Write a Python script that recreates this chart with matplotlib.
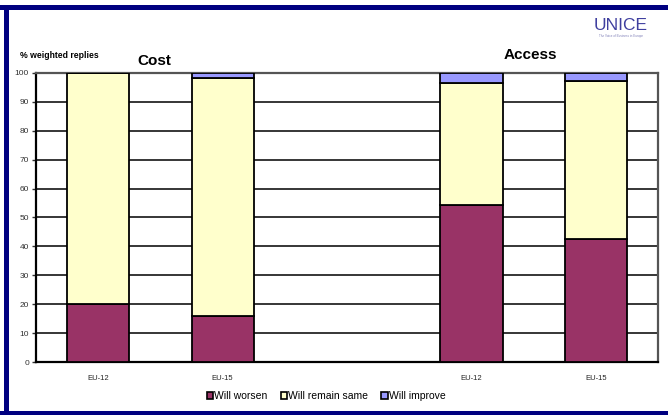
import numpy as np
import matplotlib
matplotlib.use("Agg")
import matplotlib.pyplot as plt
from matplotlib.patches import Rectangle, Patch

plt.rcParams['font.family'] = ['Liberation Sans', 'DejaVu Sans']

# slot labels (middle slot left empty to separate the two groups)
categories = ["EU-12", "EU-15", "", "EU-12", "EU-15"]
worsen = [20.0, 16.0, 0.0, 54.4, 42.7]
same = [80.0, 82.0, 0.0, 42.1, 54.5]
improve = [0.0, 2.0, 0.0, 3.5, 2.8]
series_names = ["Will worsen", "Will remain same", "Will improve"]
colors = ["#993366", "#FFFFCC", "#9999FF"]

W, H = 668, 415
fig = plt.figure(figsize=(W / 100, H / 100), dpi=100)

# navy frame: top, left and bottom bands
navy = "#000080"
for x0, y0, w, h in [(0, 405, 668, 5), (4, 0, 5, 410), (0, 0, 668, 4)]:
    fig.add_artist(Rectangle((x0 / W, y0 / H), w / W, h / H,
                             transform=fig.transFigure, color=navy, lw=0))

ax = fig.add_axes([36 / W, (H - 362.3) / H, 622 / W, 289.6 / H])

x = np.array([i for i, c in enumerate(categories) if c])
w_arr = np.array(worsen)[x]
s_arr = np.array(same)[x]
i_arr = np.array(improve)[x]

ax.bar(x, w_arr, width=0.5, color=colors[0], edgecolor="black", lw=1.3, zorder=3)
ax.bar(x, s_arr, width=0.5, bottom=w_arr, color=colors[1], edgecolor="black", lw=1.3, zorder=3)
ax.bar(x, i_arr, width=0.5, bottom=w_arr + s_arr, color=colors[2], edgecolor="black", lw=1.3, zorder=3)

ax.set_xlim(-0.5, len(categories) - 0.5)
ax.set_ylim(0, 100)
ax.set_yticks(np.arange(0, 101, 10))
ax.set_xticks(range(len(categories)))
ax.set_xticklabels(categories)
ax.tick_params(axis='x', length=0, labelsize=5.5, pad=9, colors="#222222")
ax.tick_params(axis='y', length=3, width=1, labelsize=6, colors="#333333", pad=2)
ax.yaxis.grid(True, color="black", lw=1.1, zorder=1)
ax.set_axisbelow(True)

for side in ["left", "bottom"]:
    ax.spines[side].set_color("black")
    ax.spines[side].set_linewidth(1.6)
for side in ["top", "right"]:
    ax.spines[side].set_color("#555555")
    ax.spines[side].set_linewidth(1.6)

fig.text(20 / W, 1 - 56 / H, "% weighted replies", fontsize=6.2, fontweight="bold",
         va="center", ha="left")
fig.text(154 / W, 1 - 61 / H, "Cost", fontsize=11, fontweight="bold", ha="center", va="center")
fig.text(530 / W, 1 - 55 / H, "Access", fontsize=11, fontweight="bold", ha="center", va="center")

# logo in the top right corner
fig.text(621 / W, 1 - 26 / H, "UNICE", fontsize=12.5, color="#3f3f9f",
         ha="center", va="center")
fig.text(621 / W, 1 - 36 / H, "The Voice of Business in Europe", fontsize=2.2,
         color="#8080b8", ha="center", va="center")

handles = [Patch(facecolor=c, edgecolor="black", lw=1.2) for c in colors]
fig.legend(handles, series_names, loc="center", bbox_to_anchor=(326 / W, 1 - 396 / H),
           ncol=3, frameon=False, fontsize=7.5, handlelength=0.6, handleheight=0.6,
           handletextpad=0.1, columnspacing=1.3)

fig.savefig("out.png", dpi=100)
